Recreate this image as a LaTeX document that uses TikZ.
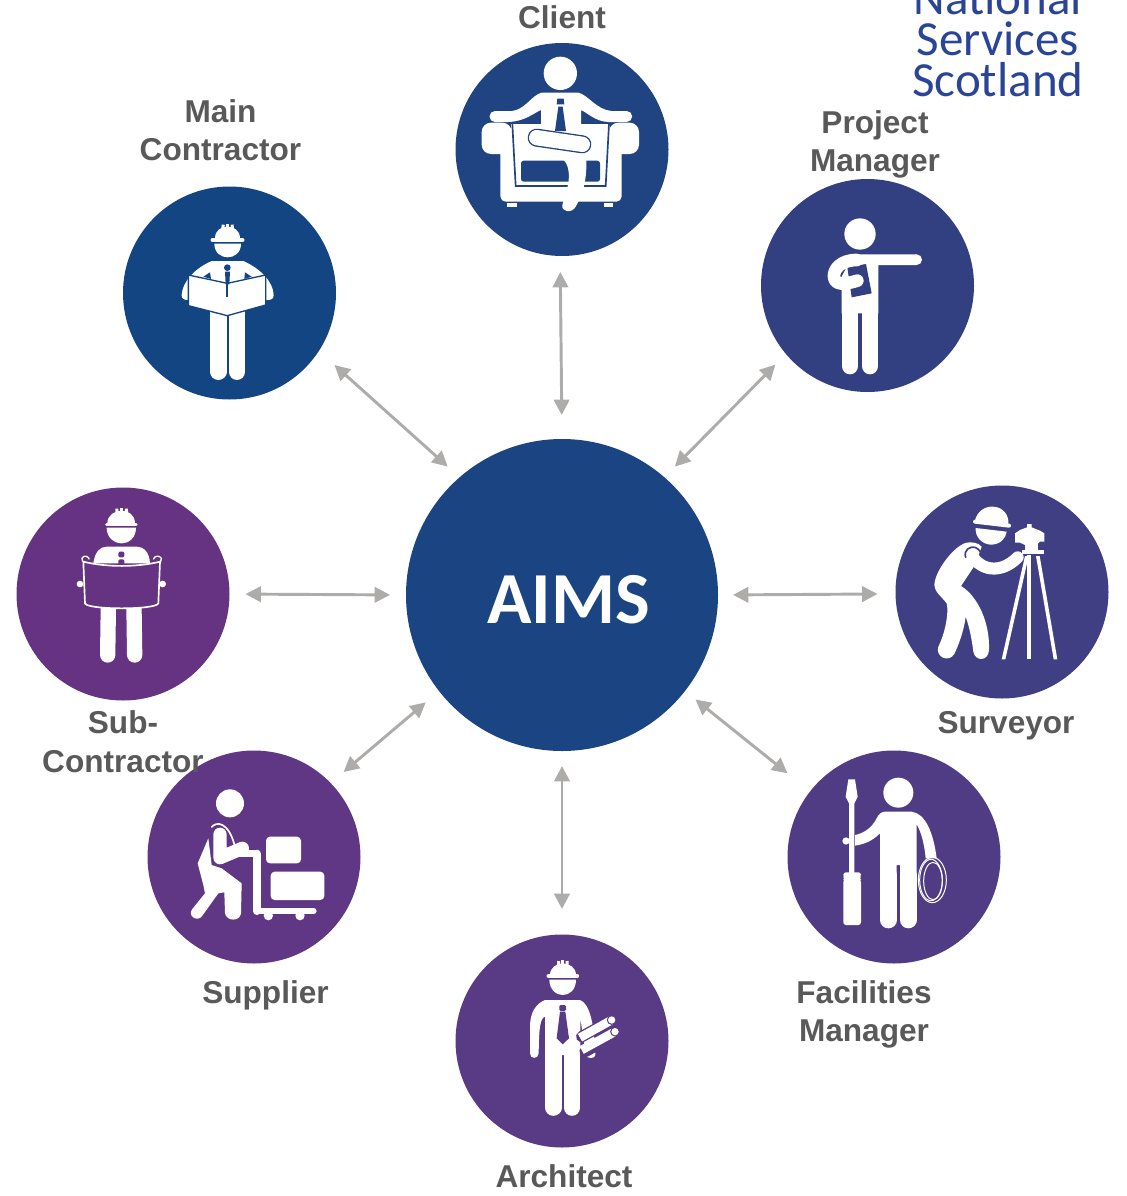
\documentclass[tikz,border=0pt]{standalone}
\usepackage{fontspec}
\setmainfont{Liberation Sans}
\newfontfamily\carlitofont{Carlito}
\usetikzlibrary{arrows.meta}
\definecolor{cHub}{HTML}{1B4482}
\definecolor{cMain}{HTML}{134583}
\definecolor{cClient}{HTML}{204382}
\definecolor{cPM}{HTML}{324082}
\definecolor{cSurv}{HTML}{403F84}
\definecolor{cFM}{HTML}{503C84}
\definecolor{cArch}{HTML}{583B84}
\definecolor{cSupp}{HTML}{5F3784}
\definecolor{cSub}{HTML}{663282}
\definecolor{cGrey}{HTML}{AEACAB}
\definecolor{cText}{HTML}{595959}
\definecolor{cLogo}{HTML}{2A4598}
\tikzset{
  x=0.75pt,y=-0.75pt,
  disc/.style={circle,minimum size=159.75pt,inner sep=0pt,outer sep=0pt,fill=#1},
  hub/.style={circle,minimum size=234pt,inner sep=0pt,outer sep=0pt,fill=cHub},
  lab/.style={anchor=base,inner sep=0pt,font=\bfseries\fontsize{23.7}{28}\selectfont,text=cText},
  logo/.style={anchor=base,inner sep=0pt,font=\carlitofont\fontsize{36.8}{40}\selectfont,text=cLogo},
  hubtext/.style={anchor=base,inner sep=0pt,font=\carlitofont\bfseries\fontsize{55}{60}\selectfont,text=white},
  link/.style={draw=cGrey,line width=2.2pt,{Triangle[length=11.5pt,width=11.5pt]}-{Triangle[length=11.5pt,width=11.5pt]},
     shorten <=#1*0.75pt},
  sb/.style={shorten >=#1*0.75pt},
  ink/.style={fill=white,draw=none},
  cut/.style={fill=bgc,draw=none},
  wz/.style={line width=#1*0.25pt},
  limb/.style={draw=white,line width=#1*0.25pt,line cap=round,line join=round},
  slit/.style={draw=bgc,line width=#1*0.25pt,line cap=round,line join=round},
  wire/.style={draw=white,line width=#1*0.25pt},
}
\begin{document}
\begin{tikzpicture}
\useasboundingbox (0,0) rectangle (1127,1196);
\clip (0,0) rectangle (1127,1196);

% circles
\node[hub] (aims) at (562,595) {};
\node[disc=cClient] (client) at (562,149.5) {};
\node[disc=cMain] (main) at (229.5,293) {};
\node[disc=cPM] (pm) at (867.5,285.5) {};
\node[disc=cSub] (sub) at (123,594) {};
\node[disc=cSurv] (surv) at (1002,592) {};
\node[disc=cSupp] (supp) at (254,857) {};
\node[disc=cFM] (fm) at (894,857) {};
\node[disc=cArch] (arch) at (562,1041) {};

% connectors
\draw[link=24,sb=16] (aims.90.6) -- (client.-91);
\draw[link=16,sb=21] (aims.131) -- (main.-33);
\draw[link=15,sb=15] (aims.49) -- (pm.220.3);
\draw[link=16,sb=16] (aims.180) -- (sub.0);
\draw[link=15,sb=18] (aims.0) -- (surv.181.4);
\draw[link=17.5,sb=17] (aims.218.9) -- (supp.44);
\draw[link=13.5,sb=29] (aims.-38.3) -- (fm.142.2);
\draw[link=15,sb=25.5] (aims.-90.3) -- (arch.90);

% Client icon
\begin{scope}[shift={(475,50)},x=0.25pt,y=-0.25pt]
\colorlet{bgc}{cClient}
\fill[ink] (256,70) circle [radius=50];
% chair
\fill[ink,rounded corners=28pt*0.25] (20,218) -- (110,218) -- (110,312) -- (20,312) -- cycle;
\fill[ink,rounded corners=28pt*0.25] (402,218) -- (492,218) -- (492,312) -- (402,312) -- cycle;
\fill[ink,rounded corners=4pt] (76,290) -- (76,455) -- (440,455) -- (440,290) -- cycle;
\fill[ink] (108,222) rectangle (404,300);
\draw[draw=bgc,wz=5] (112,222) -- (122,408) -- (392,408) -- (402,222);
\fill[cut,rounded corners=2pt] (138,332) rectangle (375,395);
\fill[ink] (97,460) rectangle (125,471);
\fill[ink] (388,460) rectangle (415,471);
% arms and torso
\fill[ink] (60,183) -- (110,183) .. controls (150,180) and (170,135) .. (200,128) -- (310,128)
  .. controls (340,135) and (365,180) .. (410,183) -- (455,183) -- (455,216) -- (400,216)
  .. controls (360,214) and (340,190) .. (318,180) -- (318,250) -- (198,250) -- (198,180)
  .. controls (175,190) and (150,214) .. (100,216) -- (60,216) -- cycle;
\fill[ink] (60,199.5) circle [radius=16.5];
\fill[ink] (455,199.5) circle [radius=16.5];
\fill[cut] (247,146) -- (266,146) -- (268,163) -- (245,163) -- cycle;
\fill[cut] (250,170) -- (263,170) -- (273,243) -- (240,243) -- cycle;
% legs
\fill[ink] (178,295) .. controls (200,320) and (225,325) .. (265,330) .. controls (285,345) and (285,390) .. (275,420)
  -- (262,465) .. controls (258,485) and (290,492) .. (302,470) .. controls (325,430) and (340,380) .. (332,300) -- cycle;
\draw[slit=54] (185,263) -- (322,283);
\draw[limb=46] (185,263) -- (322,283);
\end{scope}

% Project Manager icon
\begin{scope}[shift={(820,210)},x=0.25pt,y=-0.25pt]
\colorlet{bgc}{cPM}
\fill[ink] (120,72) circle [radius=47];
\fill[ink] (100,133) -- (290,133) -- (290,165) -- (175,165) -- (175,310) -- (65,310) -- (65,200) -- cycle;
\fill[ink] (290,149) circle [radius=16];
\draw[limb=50] (90,300) -- (90,468);
\draw[limb=50] (150,300) -- (150,468);
\fill[ink] (115,300) rectangle (125,305);
\fill[cut] (82,172) -- (138,162) -- (155,250) -- (95,262) -- cycle;
\draw[limb=38] (110,150) .. controls (60,150) and (40,180) .. (42,200) .. controls (44,225) and (70,225) .. (112,212);
\end{scope}

% Main contractor icon
\begin{scope}[shift={(175,215)},x=0.25pt,y=-0.25pt]
\colorlet{bgc}{cMain}
\draw[wire=9] (143,42) -- (145,29);
\draw[wire=9] (158,40) -- (158,27);
\draw[wire=9] (173,42) -- (171,29);
\fill[ink] (120,70) .. controls (120,45) and (140,35) .. (157,35) .. controls (175,35) and (195,45) .. (195,70) -- cycle;
\draw[limb=13] (113,75) -- (202,75);
\fill[ink] (118,86) .. controls (118,115) and (140,127) .. (158,127) .. controls (176,127) and (198,115) .. (198,86) -- cycle;
\fill[ink] (38,255) .. controls (25,255) and (20,250) .. (20,240) .. controls (22,200) and (60,160) .. (110,138) -- (205,138)
  .. controls (255,160) and (295,200) .. (296,240) .. controls (296,250) and (290,255) .. (278,255) -- cycle;
\draw[limb=50] (130,290) -- (130,470);
\draw[limb=50] (186,290) -- (186,470);
\fill[cut] (85,185) -- (105,172) -- (108,192) -- cycle;
\fill[cut] (210,172) -- (230,185) -- (208,192) -- cycle;
\fill[ink,draw=bgc,wz=4] (40,180) -- (157,205) -- (272,180) -- (272,270) -- (157,302) -- (40,272) -- cycle;
\fill[cut] (157,158) circle [radius=10];
\fill[cut] (150,170) -- (165,170) -- (163,208) -- (152,208) -- cycle;
\draw[draw=bgc,wz=6] (157,205) -- (157,247);
\end{scope}

% Sub-contractor icon
\begin{scope}[shift={(0,180)},x=0.25pt,y=-0.25pt]
\colorlet{bgc}{cSub}
\draw[wire=9] (350,1000) -- (351,986);
\draw[wire=9] (365,1000) -- (365,985);
\draw[wire=9] (380,1000) -- (379,986);
\fill[ink] (322,1030) .. controls (322,1005) and (345,992) .. (365,992) .. controls (385,992) and (405,1005) .. (405,1030) -- cycle;
\draw[limb=10] (320,1033) -- (408,1033);
\fill[ink] (320,1043) .. controls (320,1075) and (345,1090) .. (365,1090) .. controls (385,1090) and (408,1075) .. (408,1043) -- cycle;
\fill[ink] (280,1150) .. controls (285,1115) and (300,1100) .. (320,1100) -- (410,1100) .. controls (430,1100) and (448,1115) .. (450,1150) -- cycle;
\fill[cut,rounded corners=1pt] (355,1115) rectangle (373,1132);
\fill[cut,rounded corners=1pt] (355,1138) rectangle (373,1155);
\draw[limb=46] (325,1285) -- (323,1425);
\draw[limb=46] (402,1285) -- (404,1425);
\fill[ink] (240,1212) circle [radius=10];
\fill[ink] (488,1212) circle [radius=10];
\draw[draw=white,fill=bgc,wz=5] (250,1145) .. controls (320,1162) and (410,1162) .. (480,1145)
  -- (475,1270) .. controls (470,1290) and (260,1290) .. (255,1270) -- cycle;
\draw[draw=white,wz=4] (248,1145) -- (246,1135) .. controls (250,1125) and (265,1127) .. (268,1138);
\draw[draw=white,wz=4] (482,1145) -- (484,1135) .. controls (480,1125) and (462,1127) .. (460,1138);
\end{scope}

% Surveyor icon
\begin{scope}[shift={(925,500)},x=0.25pt,y=-0.25pt]
\colorlet{bgc}{cSurv}
\fill[ink] (150,62) .. controls (155,35) and (180,18) .. (205,20) .. controls (235,22) and (252,45) .. (250,72) -- cycle;
\draw[limb=12] (150,65) -- (252,77);
\fill[ink] (152,84) .. controls (150,110) and (170,133) .. (198,134) .. controls (225,134) and (243,115) .. (245,95) -- cycle;
\fill[ink] (125,128) .. controls (90,135) and (30,210) .. (28,255) .. controls (28,275) and (50,290) .. (65,310)
  .. controls (72,340) and (60,400) .. (40,440) .. controls (30,470) and (70,490) .. (88,462) .. controls (105,425) and (118,385) .. (122,350)
  .. controls (135,385) and (142,430) .. (145,455) .. controls (150,485) and (190,485) .. (192,450)
  .. controls (195,370) and (160,290) .. (108,258) -- (150,195) -- (170,140) .. controls (160,128) and (140,125) .. (125,128) -- cycle;
\draw[limb=36] (140,165) .. controls (165,210) and (225,225) .. (278,172);
\draw[draw=bgc,wz=5,line cap=round] (122,172) .. controls (115,150) and (135,138) .. (150,142) .. controls (162,146) and (170,160) .. (176,172);
\fill[ink] (300,168) -- (311,168) -- (241,478) -- (230,478) -- cycle;
\fill[ink] (307,165) rectangle (319,478);
\fill[ink] (333,168) -- (344,168) -- (397,478) -- (386,478) -- cycle;
\fill[ink] (292,150) rectangle (358,163);
\fill[ink] (300,125) rectangle (340,152);
\fill[ink] (270,100) -- (285,90) -- (306,82) -- (306,72) -- (320,72) -- (320,82) -- (345,92) -- (358,100) -- (358,125) -- (345,125) -- (335,135) -- (300,135) -- (285,128) -- (270,128) -- cycle;
\end{scope}

% Supplier icon
\begin{scope}[shift={(185,785)},x=0.25pt,y=-0.25pt]
\colorlet{bgc}{cSupp}
\fill[ink] (135,55) circle [radius=42];
\fill[ink] (70,160) -- (38,235) -- (55,300) -- (60,325) -- (22,372) .. controls (5,395) and (40,412) .. (52,392)
  -- (100,325) -- (118,322) -- (120,385) .. controls (125,410) and (165,410) .. (168,385) -- (170,295) -- (110,250) -- (80,240) -- cycle;
\draw[limb=22,line cap=butt] (165,206) -- (215,206);
\draw[limb=24] (215,206) -- (215,378);
\draw[limb=20] (215,378) -- (385,378);
\fill[ink] (250,392) circle [radius=14];
\fill[ink] (345,392) circle [radius=14];
\draw[slit=48] (108,148) -- (106,215);
\draw[limb=40] (105,148) -- (105,218) -- (172,190);
\draw[draw=white,wz=5,line cap=round] (80,126) .. controls (95,108) and (130,112) .. (148,178);
\fill[ink,rounded corners=3pt] (243,155) rectangle (348,235);
\fill[ink,rounded corners=3pt] (257,260) rectangle (418,345);
\end{scope}

% Facilities manager icon
\begin{scope}[shift={(835,775)},x=0.25pt,y=-0.25pt]
\colorlet{bgc}{cFM}
\fill[ink] (190,53) circle [radius=45];
\fill[ink] (150,110) -- (230,110) .. controls (270,115) and (295,170) .. (305,250) -- (272,250) .. controls (268,205) and (258,170) .. (245,148)
  -- (245,300) -- (195,300) -- (195,270) -- (185,270) -- (185,300) -- (135,300) -- (135,175) .. controls (110,200) and (85,208) .. (60,212) -- (60,180)
  .. controls (85,175) and (110,160) .. (125,130) .. controls (130,118) and (140,110) .. (150,110) -- cycle;
\draw[limb=50] (160,300) -- (160,435);
\draw[limb=50] (220,300) -- (220,435);
\fill[ink] (33,198) circle [radius=11];
\fill[ink] (40,13) -- (60,13) -- (68,65) -- (58,85) -- (58,295) -- (42,295) -- (42,85) -- (32,65) -- cycle;
\fill[ink,rounded corners=2pt] (25,292) -- (78,292) -- (78,305) -- (72,310) -- (78,315) -- (78,450) -- (25,450) -- (25,315) -- (30,310) -- (25,305) -- cycle;
\draw[wire=3] (292,315) ellipse [x radius=42, y radius=68];
\draw[wire=3] (288,315) ellipse [x radius=34, y radius=62];
\draw[wire=3] (294,318) ellipse [x radius=28, y radius=56];
\end{scope}

% Architect icon
\begin{scope}[shift={(520,955)},x=0.25pt,y=-0.25pt]
\colorlet{bgc}{cArch}
\draw[wire=9] (115,35) -- (116,18);
\draw[wire=9] (128,35) -- (128,16);
\draw[wire=9] (142,35) -- (141,18);
\fill[ink] (90,60) .. controls (90,38) and (110,25) .. (128,25) .. controls (148,25) and (168,38) .. (168,60) -- cycle;
\draw[limb=11] (85,63) -- (172,63);
\fill[ink] (88,74) .. controls (88,105) and (110,120) .. (128,120) .. controls (148,120) and (168,105) .. (168,74) -- cycle;
\fill[ink] (75,135) -- (180,135) .. controls (205,145) and (222,190) .. (226,300) .. controls (226,312) and (200,312) .. (198,300) -- (181,190) -- (181,300) -- (75,300) -- (75,185)
  .. controls (60,190) and (57,220) .. (56,295) .. controls (55,313) and (30,313) .. (30,295) -- (30,215) .. controls (30,170) and (50,145) .. (75,135) -- cycle;
\draw[limb=49] (100,295) -- (100,458);
\draw[limb=49] (156,295) -- (156,458);
\fill[ink] (124,290) rectangle (132,300);
\fill[cut,rounded corners=1pt] (118,150) rectangle (138,168);
\fill[cut] (120,170) -- (136,170) -- (147,250) -- (128,268) -- (110,250) -- cycle;
\draw[slit=34] (195,290) -- (278,243);
\draw[limb=26,line cap=butt] (185,285) -- (285,230);
\draw[slit=34] (185,245) -- (272,197);
\draw[limb=26,line cap=butt] (180,248) -- (275,195);
\fill[ink,draw=bgc,wz=3] (275,195) circle [radius=13];
\fill[ink,draw=bgc,wz=3] (285,230) circle [radius=13];
\fill[ink] (275,195) circle [radius=6];
\fill[ink] (285,230) circle [radius=6];
\end{scope}

% labels
\node[lab] (t1) at (562,28) {Client};
\node[lab] (t2) at (220.5,122) {Main};
\node[lab] (t3) at (220.5,160) {Contractor};
\node[lab] (t4) at (875,133) {Project};
\node[lab] (t5) at (875,171) {Manager};
\node[lab] (t6) at (123,733) {Sub-};
\node[lab] (t7) at (123,772) {Contractor};
\node[lab] (t8) at (1006,733) {Surveyor};
\node[lab] (t9) at (265.5,1003) {Supplier};
\node[lab] (t10) at (864,1003) {Facilities};
\node[lab] (t11) at (864,1041) {Manager};
\node[lab] (t12) at (564,1187) {Architect};
\node[hubtext] (hubt) at (568.5,623) {AIMS};
\node[logo] (l1) at (998,14) {National};
\node[logo] (l2) at (998,55) {Services};
\node[logo] (l3) at (998,96) {Scotland};
\end{tikzpicture}
\end{document}
